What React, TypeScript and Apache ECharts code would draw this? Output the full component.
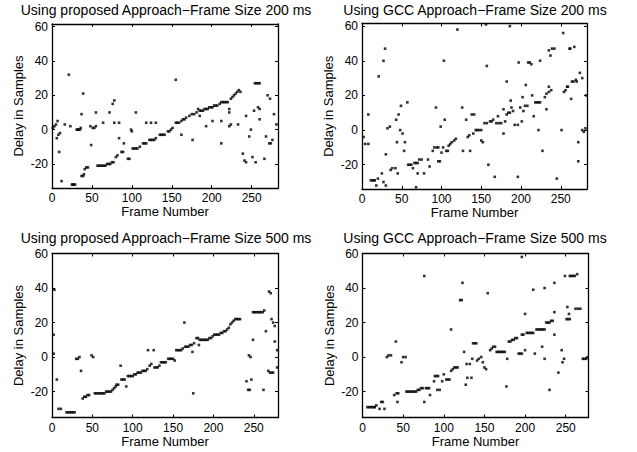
import React, { useEffect, useRef } from "react";
import * as echarts from "echarts";

const panelTitles = [
  "Using proposed Approach\u2212Frame Size 200 ms",
  "Using GCC Approach\u2212Frame Size 200 ms",
  "Using proposed Approach\u2212Frame Size 500 ms",
  "Using GCC Approach\u2212Frame Size 500 ms",
];
const xAxisTitle = "Frame Number";
const yAxisTitle = "Delay in Samples";
const xTicks = [0, 50, 100, 150, 200, 250];
const yTicks = [-20, 0, 20, 40, 60];
const xMaxes = [283, 283, 280, 278];
const yMins = [-34, -34, -35, -35];
const yMaxes = [61.5, 61.5, 60, 60];

const proposed200: [number, number][] = [
  [1,1],[3,2],[5,3],[6,-5],[7,5],[8,-3],[9,-13],[10,-2],[12,-30],[16,3],[21,32],[23,2],[25,-32],[26,-32],[27,-32],[29,-32],
  [31,0],[32,0],[33,0],[35,0],[36,1],[37,9],[37,-27],[39,21],[39,-27],[40,-26],[41,-23],[43,-22],[45,-22],[48,2],[49,-9],
  [51,1],[53,1],[55,2],[55,10],[57,-21],[59,-21],[61,-21],[63,-21],[64,4],[65,-21],[67,-21],[69,-20],[71,-20],[72,10],
  [73,-20],[75,-19],[76,15],[77,-19],[78,17],[78,4],[80,-16],[82,-15],[84,4],[84,-5],[87,-13],[89,-13],[90,-8],[95,-17],
  [97,-17],[99,0],[100,-1],[101,-11],[103,-11],[105,10],[105,-11],[107,-11],[110,-10],[114,-8],[116,-8],[118,-8],[118,4],
  [122,-6],[124,4],[124,-6],[126,-6],[128,-6],[130,4],[130,-5],[135,-3],[137,-3],[139,-3],[141,-3],[145,-1],[147,-1],[149,0],
  [151,1],[155,4],[155,29],[157,4],[159,4],[162,-3],[162,5],[164,6],[166,6],[168,7],[172,8],[175,9],[176,-6],[178,9],[181,10],
  [183,12],[185,8],[185,11],[187,11],[189,11],[191,12],[193,2],[193,12],[195,12],[197,13],[199,13],[201,5],[201,13],[203,14],
  [205,14],[207,14],[210,15],[212,5],[212,-8],[212,16],[214,16],[216,16],[218,16],[220,16],[222,10],[222,12],[222,2],[224,3],
  [224,18],[226,19],[228,20],[230,21],[232,22],[233,3],[234,23],[236,22],[239,-14],[241,-18],[243,-19],[243,8],[247,-4],
  [249,0],[251,-16],[253,11],[254,27],[255,-19],[256,27],[258,27],[258,13],[260,27],[260,6],[260,12],[266,-17],[268,-4],
  [270,20],[272,-8],[273,18],[274,-8],[276,-6],[278,9],[281,3],
];

const gcc200: [number, number][] = [
  [2,-4],[4,-8],[8,-8],[8,9],[11,-29],[13,-29],[15,-29],[16,-29],[18,-32],[20,-28],[21,31],[25,-25],[27,-30],[27,40],[29,47],
  [30,-14],[30,-32],[32,1],[35,2],[36,-23],[38,-22],[42,-22],[43,6],[44,-7],[45,-25],[46,9],[48,0],[49,14],[51,-2],[53,-12],
  [54,-7],[57,16],[58,-20],[60,-20],[62,-20],[64,-22],[66,-19],[68,-19],[68,-33],[70,-19],[70,-25],[72,-17],[75,-17],[78,-25],
  [83,-17],[85,-21],[89,-12],[91,-10],[93,13],[94,-10],[96,-10],[96,-18],[98,-18],[99,2],[100,-13],[102,-10],[103,40],[104,6],
  [106,-12],[108,-12],[109,-9],[111,-8],[113,-7],[116,-6],[118,-5],[120,58],[126,13],[127,-12],[131,6],[133,-4],[135,-3],
  [136,-12],[138,9],[140,-2],[141,9],[143,0],[145,0],[147,0],[150,0],[150,-6],[152,-7],[154,4],[156,61],[157,4],[157,37],
  [159,-20],[161,5],[163,5],[165,6],[167,-27],[169,4],[171,8],[172,4],[175,4],[178,-2],[178,12],[180,5],[182,28],[182,9],
  [184,10],[186,10],[186,60],[187,17],[188,13],[190,11],[192,3],[196,3],[196,-27],[197,39],[199,13],[201,5],[202,19],
  [203,11],[205,14],[206,26],[208,14],[209,39],[211,39],[213,38],[214,20],[216,8],[218,16],[220,16],[222,16],[222,0],
  [224,16],[224,40],[227,-12],[230,19],[232,12],[232,21],[235,22],[235,25],[235,46],[237,43],[238,23],[239,47],[242,47],
  [245,-28],[251,0],[253,56],[254,22],[256,23],[258,25],[259,25],[261,47],[262,47],[263,18],[264,28],[266,28],[267,48],
  [269,29],[270,28],[272,-7],[272,-18],[274,33],[277,30],[277,0],[279,-1],[281,1],[282,20],
];

const proposed500: [number, number][] = [
  [2,13],[2,2],[3,39],[6,-13],[8,-30],[11,-30],[18,-32],[20,-32],[22,-32],[24,-32],[26,-32],[28,-32],[30,-1],[32,-1],[34,0],
  [36,-8],[38,-24],[40,-23],[42,-23],[44,-22],[46,-22],[49,1],[51,0],[53,-21],[55,-21],[57,-21],[59,-21],[61,-21],[63,-21],
  [65,-21],[67,-20],[69,-20],[71,-20],[73,-20],[75,-19],[77,-18],[79,-17],[80,-16],[82,-16],[85,-5],[86,-13],[88,-13],[90,-13],
  [92,-17],[94,-11],[96,-11],[98,-11],[100,-11],[102,-10],[104,-10],[106,-9],[108,-9],[110,-9],[112,-8],[114,-8],[116,-8],
  [118,-7],[119,4],[121,-5],[123,-4],[126,4],[127,-6],[129,-6],[131,-6],[133,-5],[135,-3],[137,-3],[139,-3],[141,-3],[144,-1],
  [146,-1],[148,-1],[150,-1],[152,-2],[154,4],[156,4],[158,4],[160,4],[162,5],[164,20],[165,6],[167,6],[169,6],[171,7],[173,7],
  [174,3],[175,-21],[176,8],[179,11],[181,11],[182,7],[183,10],[185,10],[187,10],[189,10],[191,10],[193,10],[195,11],[197,11],
  [199,12],[201,13],[203,13],[205,13],[207,13],[209,14],[211,14],[213,15],[215,15],[217,16],[219,17],[221,19],[223,20],[225,21],
  [227,22],[229,22],[231,22],[233,22],[241,-14],[243,-19],[245,-19],[244,1],[246,0],[247,-13],[249,10],[249,26],[251,26],
  [253,26],[255,26],[257,26],[259,26],[261,26],[262,-19],[263,27],[265,15],[268,-8],[269,38],[270,-9],[271,37],[272,-9],
  [274,-9],[272,22],[274,20],[276,18],[276,9],[279,4],[279,-6],
];

const gcc500: [number, number][] = [
  [6,-29],[8,-29],[10,-29],[12,-29],[14,-29],[15,-29],[17,-28],[21,-30],[23,-26],[25,-26],[27,-30],[30,0],[32,1],[35,1],
  [39,-22],[41,9],[42,-21],[43,-26],[44,-21],[48,-3],[50,0],[53,0],[54,-20],[56,-20],[58,-20],[60,-20],[62,-20],[64,-20],
  [66,-20],[68,-19],[70,-19],[72,-18],[74,-18],[76,-26],[76,47],[78,-18],[80,-18],[82,-18],[83,-22],[88,-14],[89,-11],[91,-11],
  [93,-11],[92,-19],[95,-19],[98,-14],[100,-10],[103,-13],[105,-13],[107,-13],[109,-8],[109,16],[111,-7],[113,-6],[115,-6],
  [117,-6],[120,33],[122,33],[123,43],[125,3],[127,-16],[128,-4],[129,-12],[132,-4],[134,-12],[135,-1],[136,8],[138,8],[140,8],
  [141,-2],[143,-1],[146,0],[148,-3],[150,-6],[152,-7],[154,37],[157,4],[159,5],[161,6],[163,6],[165,3],[167,3],[169,3],
  [171,3],[173,3],[175,3],[177,-17],[178,-1],[180,9],[182,9],[184,10],[186,10],[188,11],[190,11],[192,2],[194,2],[196,2],
  [196,13],[196,58],[198,13],[200,4],[200,25],[202,14],[204,14],[206,14],[208,14],[210,14],[210,39],[212,2],[214,16],[216,16],
  [218,16],[220,16],[222,16],[224,16],[221,6],[224,-1],[224,40],[226,20],[228,20],[230,20],[232,21],[234,21],[230,-19],
  [236,13],[236,26],[236,43],[241,-9],[245,4],[246,-3],[248,-1],[249,47],[251,22],[252,29],[253,22],[254,25],[255,22],
  [255,47],[257,47],[259,47],[261,47],[262,28],[264,48],[265,28],[268,28],[271,-1],[273,-1],[275,-1],[277,0],
];

const panelData = [proposed200, gcc200, proposed500, gcc500];

const FONT = "'Liberation Sans', Arial, Helvetica, sans-serif";

export default function App() {
  const ref = useRef<HTMLDivElement>(null);

  useEffect(() => {
    const chart = echarts.init(ref.current!, null, { renderer: "svg" });

    const grids = [
      { left: 52, top: 24, width: 226, height: 164 },
      { left: 362, top: 23.5, width: 225, height: 165.5 },
      { left: 52, top: 253.5, width: 226, height: 164 },
      { left: 362.5, top: 253.5, width: 226, height: 164 },
    ];
    const titlePos = [
      [166, 10],
      [475, 10],
      [166, 238],
      [475, 238],
    ];

    const line = { show: true, onZero: false, lineStyle: { color: "#000", width: 1.3 } };
    const xAxes: any[] = [];
    const yAxes: any[] = [];
    const series: any[] = [];

    grids.forEach((g, i) => {
      xAxes.push({
        type: "value",
        gridIndex: i,
        position: "bottom",
        min: 0,
        max: xMaxes[i],
        axisLine: line,
        axisTick: { show: true, inside: true, length: 3, customValues: xTicks, lineStyle: { color: "#000" } },
        axisLabel: { show: true, customValues: xTicks, color: "#000", fontSize: 12, margin: 4, fontFamily: FONT },
        splitLine: { show: false },
        name: xAxisTitle,
        nameLocation: "middle",
        nameGap: 17,
        nameTextStyle: { color: "#000", fontSize: 13, fontFamily: FONT },
      });
      xAxes.push({
        type: "value",
        gridIndex: i,
        position: "top",
        min: 0,
        max: xMaxes[i],
        axisLine: line,
        axisTick: { show: true, inside: true, length: 3, customValues: xTicks, lineStyle: { color: "#000" } },
        axisLabel: { show: false },
        splitLine: { show: false },
      });
      yAxes.push({
        type: "value",
        gridIndex: i,
        position: "left",
        min: yMins[i],
        max: yMaxes[i],
        axisLine: line,
        axisTick: { show: true, inside: true, length: 3, customValues: yTicks, lineStyle: { color: "#000" } },
        axisLabel: { show: true, customValues: yTicks, color: "#000", fontSize: 12, margin: 4, fontFamily: FONT },
        splitLine: { show: false },
        name: yAxisTitle,
        nameLocation: "middle",
        nameGap: 27,
        nameRotate: 90,
        nameTextStyle: { color: "#000", fontSize: 13, fontFamily: FONT },
      });
      yAxes.push({
        type: "value",
        gridIndex: i,
        position: "right",
        min: yMins[i],
        max: yMaxes[i],
        axisLine: line,
        axisTick: { show: true, inside: true, length: 3, customValues: yTicks, lineStyle: { color: "#000" } },
        axisLabel: { show: false },
        splitLine: { show: false },
      });
      series.push({
        type: "scatter",
        xAxisIndex: 2 * i,
        yAxisIndex: 2 * i,
        data: panelData[i],
        symbol: "rect",
        symbolSize: 2.6,
        itemStyle: { color: "#000" },
        silent: true,
      });
    });

    chart.setOption({
      animation: false,
      backgroundColor: "#fff",
      grid: grids,
      xAxis: xAxes,
      yAxis: yAxes,
      series,
      graphic: panelTitles.map((t, i) => ({
        type: "text",
        x: titlePos[i][0],
        y: titlePos[i][1],
        style: {
          text: t,
          fill: "#000",
          font: `14px ${FONT}`,
          textAlign: "center",
          textVerticalAlign: "middle",
          align: "center",
          verticalAlign: "middle",
        },
      })),
    });

    return () => chart.dispose();
  }, []);

  return (
    <div
      ref={ref}
      style={{ position: "fixed", left: 0, top: 0, width: 637, height: 452, background: "#fff" }}
    />
  );
}
